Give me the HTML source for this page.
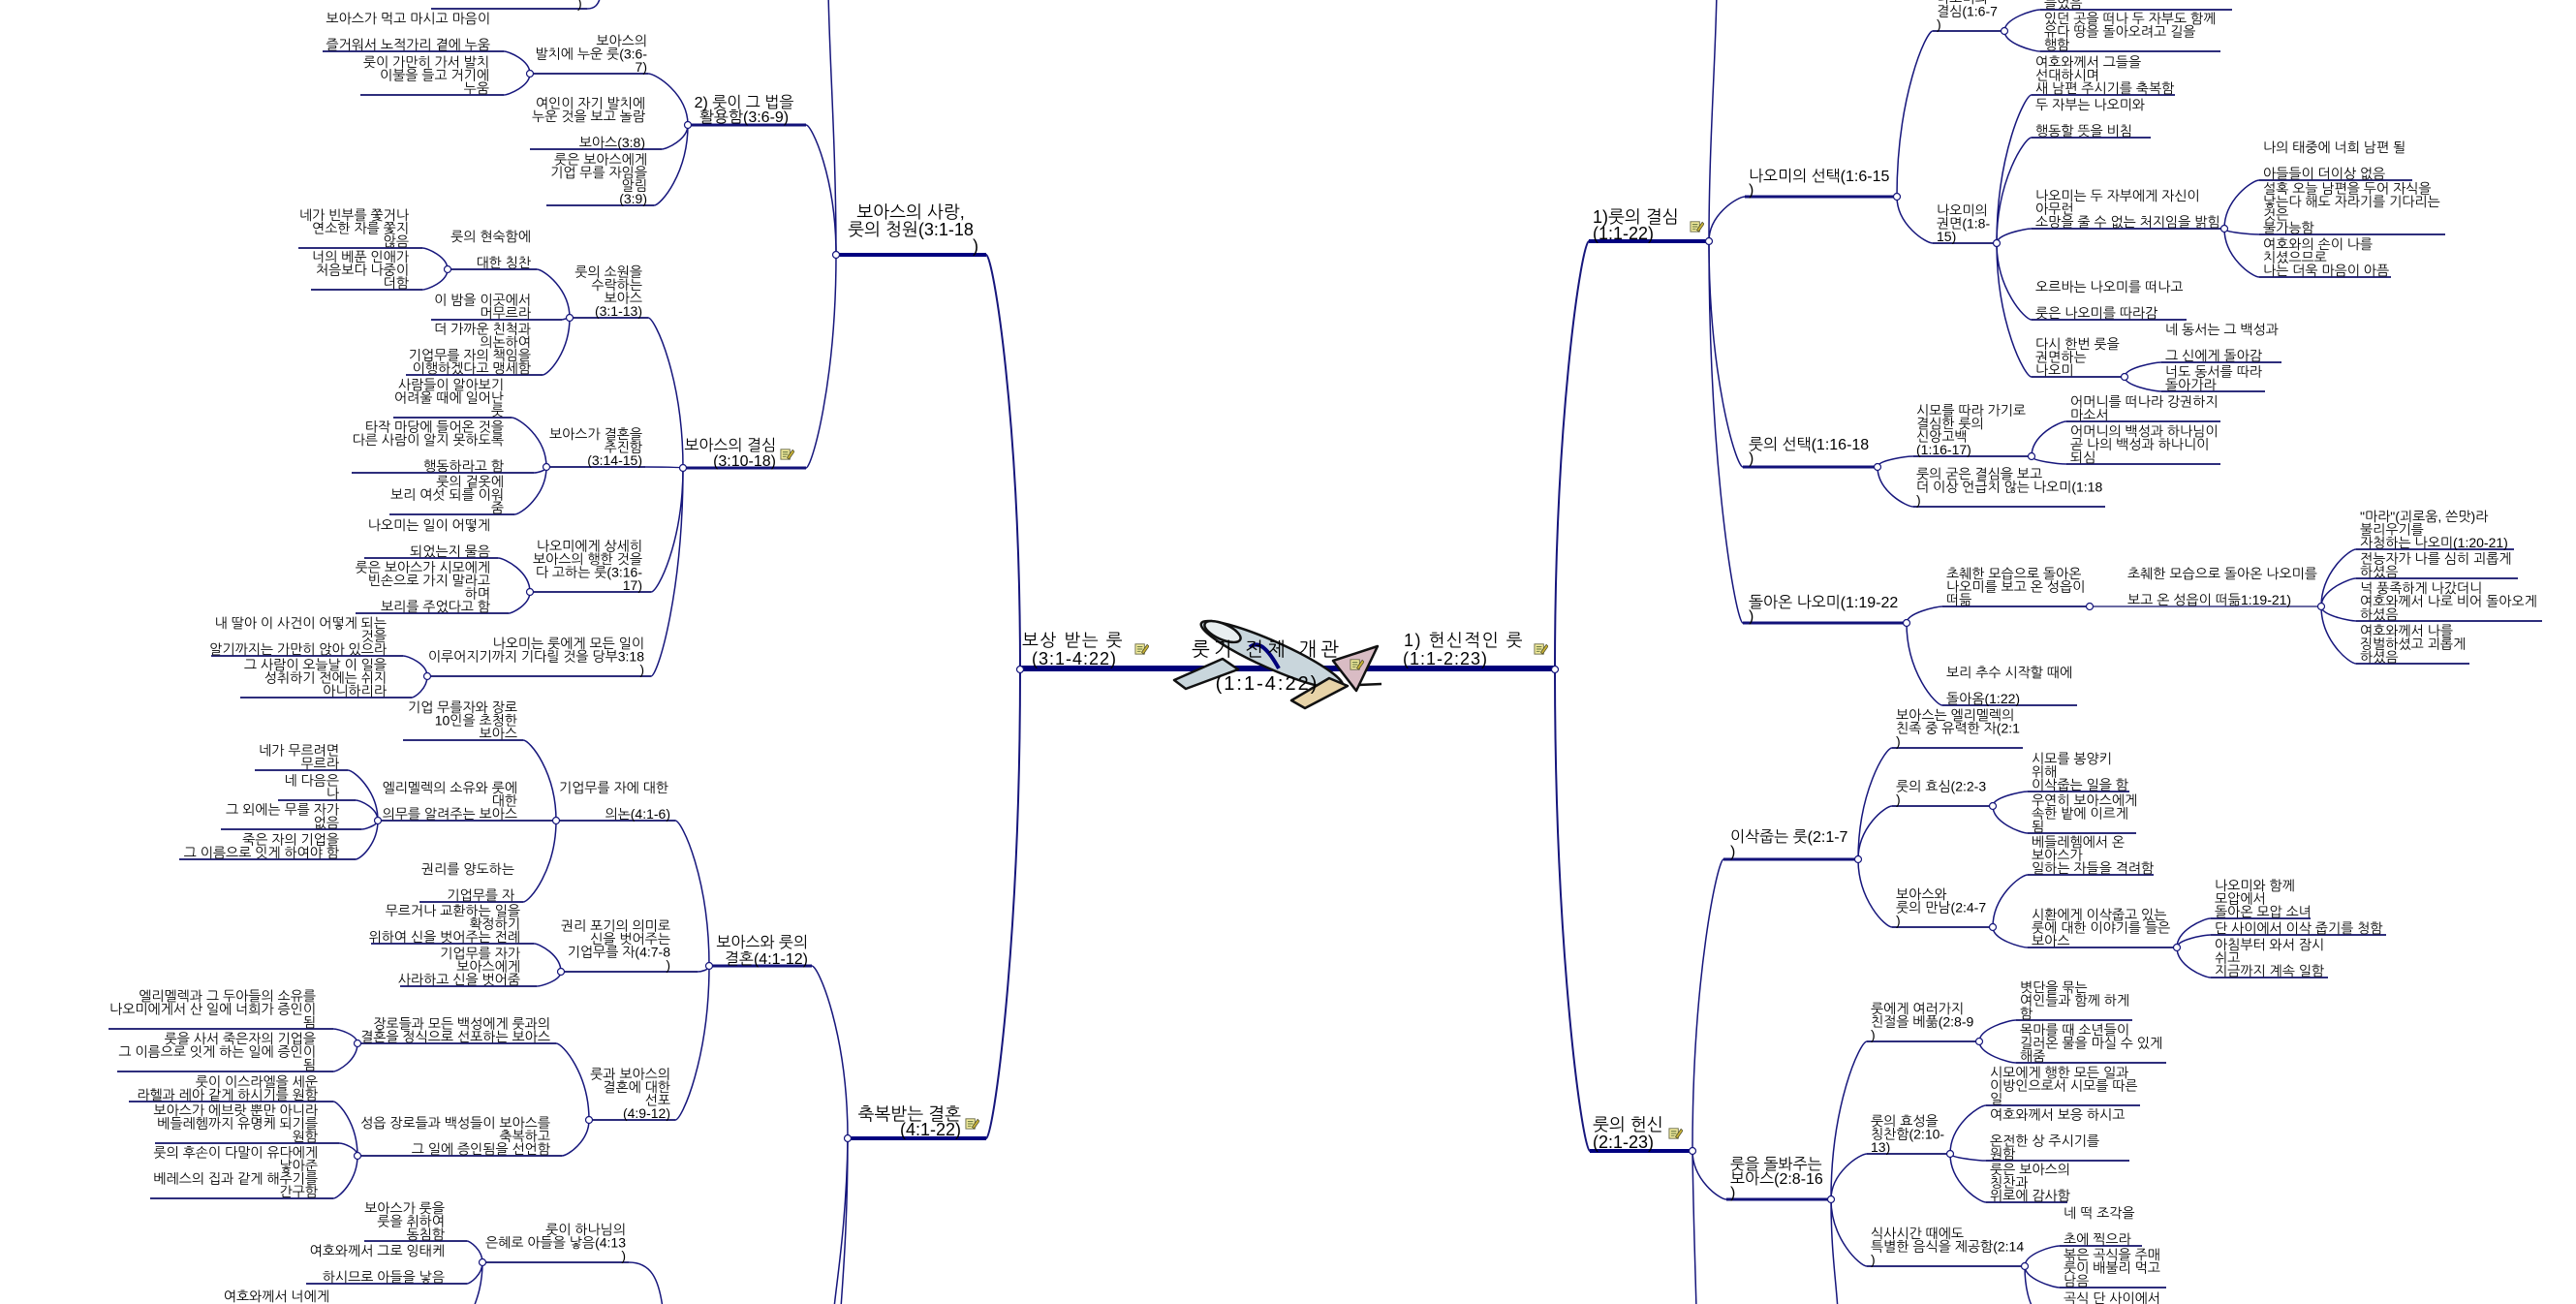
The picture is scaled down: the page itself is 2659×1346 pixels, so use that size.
<!DOCTYPE html>
<html><head><meta charset="utf-8">
<style>
html,body{margin:0;padding:0;background:#fff;}
body{width:2659px;height:1346px;overflow:hidden;}
svg{display:block}
text{font-family:"Liberation Sans","NanumGothic","Noto Sans CJK KR",sans-serif;font-size:14px;fill:#000}
.e{text-anchor:end}
.m{text-anchor:middle}
.b{font-size:16px}
.c{font-size:18px}
.d{font-size:18px}
.z{font-size:20px}
</style></head>
<body>
<svg width="2659" height="1346" viewBox="0 0 2659 1346" xmlns="http://www.w3.org/2000/svg">
<defs>
<symbol id="ic" viewBox="0 0 16 16">
<rect x="1" y="3" width="10" height="11" fill="#f3ec9c" stroke="#6d6d4a" stroke-width="1"/>
<path d="M3 6h6M3 8.5h6M3 11h4" stroke="#5a6a3a" stroke-width="1"/>
<path d="M8 12 L14 3.5 L16 5.5 L10 14 Z" fill="#c9b236" stroke="#4a4a2a" stroke-width=".8"/>
</symbol>
</defs>

<!-- connectors -->
<g fill="none" stroke="#16167c" stroke-width="1.5">
<path d="M1053 691 C1053 434 1025 263 1018 263" stroke-width="2"/>
<path d="M1053 691 C1053 981 1025 1175 1018 1175" stroke-width="2"/>
<path d="M863 263 C863 183 838 129 832 129"/>
<path d="M863 263 C863 395 838 483 832 483"/>
<path d="M863 263 C863 150 856 60 855 -10"/>
<path d="M710 129 C710 97 677 76 669 76"/>
<path d="M710 129 C710 144 688 154 683 154"/>
<path d="M710 129 C710 179 682 212 675 212"/>
<path d="M547 76 C547 62 525 53 520 53"/>
<path d="M547 76 C547 89 525 98 520 98"/>
<path d="M705 483 C705 390 676 328 669 328"/>
<path d="M705 483 C705 482 674 482 666 482"/>
<path d="M705 483 C705 560 679 611 672 611"/>
<path d="M705 483 C705 612 679 698 672 698"/>
<path d="M588 328 C588 298 561 278 554 278"/>
<path d="M588 328 L580 330"/>
<path d="M588 328 C588 363 566 387 560 387"/>
<path d="M462 278 C462 265 441 256 436 256"/>
<path d="M462 278 C462 291 441 299 436 299"/>
<path d="M564 482 C564 451 535 431 528 431"/>
<path d="M564 482 C564 486 554 488 551 488"/>
<path d="M564 482 C564 511 538 531 531 531"/>
<path d="M547 611 C547 590 521 576 514 576"/>
<path d="M547 611 C547 624 529 633 525 633"/>
<path d="M441 698 C441 685 421 677 416 677"/>
<path d="M441 698 C441 711 428 720 425 720"/>
<path d="M875 1175 C875 1068 845 997 838 997"/>
<path d="M875 1175 C875 1260 870 1320 868 1350"/>
<path d="M875 1175 C874 1260 864 1320 861 1350"/>
<path d="M732 997 C732 907 704 847 697 847"/>
<path d="M732 997 C732 1001 724 1003 720 1003"/>
<path d="M732 997 C732 1092 704 1156 697 1156"/>
<path d="M574 847 C574 797 547 764 540 764"/>
<path d="M574 847 C574 897 547 931 540 931"/>
<path d="M390 847 C390 816 365 795 359 795"/>
<path d="M390 847 C390 834 372 826 367 826"/>
<path d="M390 847 C390 852 376 856 373 856"/>
<path d="M390 847 C390 871 372 887 367 887"/>
<path d="M579 1003 C579 986 557 974 551 974"/>
<path d="M579 1003 C579 1012 559 1018 554 1018"/>
<path d="M608 1156 C608 1109 581 1077 574 1077"/>
<path d="M608 1156 C608 1178 586 1193 580 1193"/>
<path d="M369 1077 C369 1068 349 1062 344 1062"/>
<path d="M369 1077 C369 1094 349 1106 344 1106"/>
<path d="M369 1193 C369 1159 349 1137 344 1137"/>
<path d="M369 1193 C369 1185 354 1180 350 1180"/>
<path d="M369 1193 C369 1219 349 1237 344 1237"/>
<path d="M649 1303 C672 1303 680 1320 684 1350"/>
<path d="M498 1303 C498 1290 485 1281 482 1281"/>
<path d="M498 1303 C498 1316 485 1325 482 1325"/>
<path d="M498 1303 C498 1330 490 1346 488 1352"/>
<path d="M606 9 C614 9 618 5 620 -5"/>

<path d="M1605 691 C1605 426 1633 249 1640 249" stroke-width="2"/>
<path d="M1605 691 C1605 989 1634 1188 1641 1188" stroke-width="2"/>
<path d="M1764 249 C1764 150 1771 60 1772 -10"/>
<path d="M1764 249 C1764 221 1794 203 1801 203"/>
<path d="M1764 249 C1764 389 1792 482 1799 482"/>
<path d="M1764 249 C1764 485 1792 643 1799 643"/>
<path d="M1958 203 C1958 100 1988 32 1995 32"/>
<path d="M1958 203 C1958 232 1988 251 1995 251"/>
<path d="M2069 32 C2069 19 2099 10 2106 10"/>
<path d="M2069 32 C2069 45 2099 53 2106 53"/>
<path d="M2061 251 C2061 159 2090 98 2097 98"/>
<path d="M2061 251 C2061 186 2090 142 2097 142"/>
<path d="M2061 251 C2061 242 2090 236 2097 236"/>
<path d="M2061 251 C2061 298 2090 330 2097 330"/>
<path d="M2061 251 C2061 334 2090 389 2097 389"/>
<path d="M2296 236 C2296 206 2325 186 2332 186"/>
<path d="M2296 236 C2296 240 2325 242 2332 242"/>
<path d="M2296 236 C2296 266 2325 286 2332 286"/>
<path d="M2193 389 C2193 380 2223 374 2231 374"/>
<path d="M2193 389 C2193 398 2223 404 2231 404"/>
<path d="M1938 482 C1938 475 1968 471 1975 471"/>
<path d="M1938 482 C1938 507 1968 523 1975 523"/>
<path d="M2097 471 C2097 449 2126 435 2133 435"/>
<path d="M2097 471 C2097 476 2126 479 2133 479"/>
<path d="M1968 643 C1968 633 1998 626 2005 626"/>
<path d="M1968 643 C1968 694 1998 728 2005 728"/>
<path d="M2396 626 C2396 591 2425 567 2432 567"/>
<path d="M2396 626 C2396 609 2425 597 2432 597"/>
<path d="M2396 626 C2396 635 2425 641 2432 641"/>
<path d="M2396 626 C2396 661 2425 685 2432 685"/>
<path d="M1747 1188 C1747 1007 1773 887 1779 887"/>
<path d="M1747 1188 C1747 1218 1775 1238 1782 1238"/>
<path d="M1747 1188 C1748 1260 1750 1310 1751 1352"/>
<path d="M1918 887 C1918 818 1946 772 1953 772"/>
<path d="M1918 887 C1918 854 1946 832 1953 832"/>
<path d="M1918 887 C1918 929 1946 957 1953 957"/>
<path d="M2057 832 C2057 823 2086 817 2093 817"/>
<path d="M2057 832 C2057 849 2086 860 2093 860"/>
<path d="M2057 957 C2057 925 2086 903 2093 903"/>
<path d="M2057 957 C2057 970 2086 978 2093 978"/>
<path d="M2247 978 C2247 960 2275 948 2282 948"/>
<path d="M2247 978 C2247 970 2275 965 2282 965"/>
<path d="M2247 978 C2247 997 2275 1009 2282 1009"/>
<path d="M1890 1238 C1890 1140 1920 1075 1927 1075"/>
<path d="M1890 1238 C1890 1210 1920 1191 1927 1191"/>
<path d="M1890 1238 C1890 1279 1920 1307 1927 1307"/>
<path d="M1890 1238 C1890 1290 1895 1320 1897 1352"/>
<path d="M2043 1075 C2043 1062 2073 1053 2081 1053"/>
<path d="M2043 1075 C2043 1088 2073 1097 2081 1097"/>
<path d="M2013 1191 C2013 1161 2043 1141 2050 1141"/>
<path d="M2013 1191 C2013 1195 2043 1198 2050 1198"/>
<path d="M2013 1191 C2013 1221 2043 1241 2050 1241"/>
<path d="M2090 1307 C2090 1294 2119 1286 2126 1286"/>
<path d="M2090 1307 C2090 1320 2119 1329 2126 1329"/>
<path d="M2090 1307 C2090 1330 2095 1346 2100 1352"/>
</g>

<!-- leaf underlines -->
<g fill="none" stroke="#2e2e7c" stroke-width="2">
<path d="M333 53H520M372 98H520M547 76H669M547 154H683M564 212H675M588 328H669M564 482H666M547 611H672M441 698H672M462 278H554M445 330H580M419 387H560M308 256H436M321 299H436M406 431H528M363 488H551M402 531H531M376 576H514M367 633H525M218 677H416M248 720H425M574 847H697M579 1003H720M608 1156H697M416 764H540M390 847H574M433 931H540M263 795H359M287 826H367M228 856H373M185 887H367M383 974H551M413 1018H554M369 1077H574M369 1193H580M112 1062H344M121 1106H344M133 1137H344M160 1180H350M155 1237H344M498 1303H649M376 1281H482M316 1325H482M445 9H606"/>
<path d="M1995 32H2069M1995 251H2061M2106 10H2304M2106 53H2292M2097 98H2245M2097 142H2220M2097 236H2296M2097 330H2257M2097 389H2193M2332 186H2490M2332 242H2524M2332 286H2468M2231 374H2355M2231 404H2338M1975 471H2097M1975 523H2173M2133 435H2292M2133 479H2292M2005 626H2157M2005 728H2144M2432 567H2595M2432 597H2599M2432 641H2624M2432 685H2549M1953 772H2088M1953 832H2057M1953 957H2057M2093 817H2198M2093 860H2205M2093 903H2223M2093 978H2247M2282 948H2385M2282 965H2463M2282 1009H2403M1927 1075H2043M1927 1191H2013M1927 1307H2090M2081 1053H2201M2081 1097H2236M2050 1141H2209M2050 1198H2198M2050 1241H2134M2126 1286H2211M2126 1329H2236"/>
<path d="M2157 626H2396" stroke="#6a6aa2"/>
</g>
<!-- level 2 underlines -->
<g fill="none" stroke="#12127a" stroke-width="3">
<path d="M710 129H832M705 483H832M732 997H838M1801 203H1958M1799 482H1938M1799 643H1968M1779 887H1918M1782 1238H1890"/>
</g>
<!-- level 1 underlines -->
<g fill="none" stroke="#000080" stroke-width="4">
<path d="M863 263H1018M875 1175H1018M1640 249H1764M1641 1188H1747"/>
</g>
<!-- main trunk -->
<path d="M1053 690H1605" stroke="#00007a" stroke-width="6"/>

<!-- plane -->
<g stroke="#111" stroke-width="2.5" stroke-linejoin="round">
<polygon points="1212,702 1262,680 1278,691 1224,711" fill="#c9d6dc"/>
<ellipse cx="1313" cy="676" rx="80" ry="14" transform="rotate(24 1313 676)" fill="#c9d6dc"/>
<ellipse cx="1262" cy="652" rx="20" ry="8" transform="rotate(24 1262 652)" fill="#e8eef0"/>
<polygon points="1376,682 1422,667 1400,713" fill="#d9bcc4"/>
<polygon points="1333,723 1372,700 1391,708 1347,731" fill="#e7d3a8"/>
<path d="M1402 707 L1426 706" fill="none"/>
<path d="M1290 668 C1300 660 1310 672 1320 690" fill="none" stroke="#00007a" stroke-width="4"/>
</g>

<!-- node circles -->
<g fill="#fff" stroke="#16167c" stroke-width="1.2">
<circle cx="1053" cy="691" r="3.5"/><circle cx="863" cy="263" r="3.5"/><circle cx="875" cy="1175" r="3.5"/><circle cx="710" cy="129" r="3.5"/><circle cx="705" cy="483" r="3.5"/><circle cx="547" cy="76" r="3.5"/><circle cx="588" cy="328" r="3.5"/><circle cx="564" cy="482" r="3.5"/><circle cx="547" cy="611" r="3.5"/><circle cx="441" cy="698" r="3.5"/><circle cx="462" cy="278" r="3.5"/><circle cx="732" cy="997" r="3.5"/><circle cx="574" cy="847" r="3.5"/><circle cx="579" cy="1003" r="3.5"/><circle cx="608" cy="1156" r="3.5"/><circle cx="390" cy="847" r="3.5"/><circle cx="369" cy="1077" r="3.5"/><circle cx="369" cy="1193" r="3.5"/><circle cx="498" cy="1303" r="3.5"/>
<circle cx="1605" cy="691" r="3.5"/><circle cx="1764" cy="249" r="3.5"/><circle cx="1747" cy="1188" r="3.5"/><circle cx="1958" cy="203" r="3.5"/><circle cx="1938" cy="482" r="3.5"/><circle cx="1968" cy="643" r="3.5"/><circle cx="2069" cy="32" r="3.5"/><circle cx="2061" cy="251" r="3.5"/><circle cx="2296" cy="236" r="3.5"/><circle cx="2193" cy="389" r="3.5"/><circle cx="2097" cy="471" r="3.5"/><circle cx="2157" cy="626" r="3.5"/><circle cx="2396" cy="626" r="3.5"/><circle cx="1918" cy="887" r="3.5"/><circle cx="1890" cy="1238" r="3.5"/><circle cx="2057" cy="832" r="3.5"/><circle cx="2057" cy="957" r="3.5"/><circle cx="2247" cy="978" r="3.5"/><circle cx="2043" cy="1075" r="3.5"/><circle cx="2013" cy="1191" r="3.5"/><circle cx="2090" cy="1307" r="3.5"/>
</g>

<!-- icons -->
<use href="#ic" x="1171" y="662" width="15" height="15"/>
<use href="#ic" x="1583" y="662" width="15" height="15"/>
<use href="#ic" x="1393" y="678" width="15" height="15"/>
<use href="#ic" x="805" y="461" width="15" height="15"/>
<use href="#ic" x="996" y="1152" width="15" height="15"/>
<use href="#ic" x="1744" y="226" width="15" height="15"/>
<use href="#ic" x="1722" y="1162" width="15" height="15"/>

<!-- center texts -->
<text x="1055" y="667" class="d" letter-spacing="1.5">보상 받는 룻</text>
<text x="1065" y="686" class="d" letter-spacing="1">(3:1-4:22)</text>
<text x="1449" y="667" class="d" letter-spacing="1.5">1) 헌신적인 룻</text>
<text x="1448" y="686" class="d" letter-spacing="1">(1:1-2:23)</text>
<text x="1308" y="677" class="z m" letter-spacing="4">룻기 전체 개관</text>
<text x="1308" y="712" class="z m" letter-spacing="2">(1:1-4:22)</text>

<!-- LEFT main branches -->
<text x="940" y="225" class="c m">보아스의 사랑,</text>
<text x="940" y="243" class="c m">룻의 청원(3:1-18</text>
<text x="1004" y="260" class="c">)</text>
<text x="992" y="1156" class="c e">축복받는 결혼</text>
<text x="992" y="1172" class="c e">(4:1-22)</text>

<text x="768" y="111" class="b m">2) 룻이 그 법을</text>
<text x="768" y="126" class="b m">활용함(3:6-9)</text>
<text x="801" y="465" class="b e">보아스의 결심</text>
<text x="801" y="481" class="b e">(3:10-18)</text>
<text x="834" y="978" class="b e">보아스와 룻의</text>
<text x="834" y="995" class="b e">결혼(4:1-12)</text>

<!-- LEFT leaves -->
<text x="596" y="8">)</text>
<text x="506" y="24" class="e">보아스가 먹고 마시고 마음이<tspan x="506" dy="27">즐거워서 노적가리 곁에 누움</tspan></text>
<text x="505" y="69" class="e">룻이 가만히 가서 발치<tspan x="505" dy="13.5">이불을 들고 거기에</tspan><tspan x="505" dy="13.5">누움</tspan></text>
<text x="668" y="47" class="e">보아스의<tspan x="668" dy="13.5">발치에 누운 룻(3:6-</tspan><tspan x="668" dy="13.5">7)</tspan></text>
<text x="666" y="111.5" class="e">여인이 자기 발치에<tspan x="666" dy="13.5">누운 것을 보고 놀람</tspan><tspan x="666" dy="27">보아스(3:8)</tspan></text>
<text x="668" y="169.5" class="e">룻은 보아스에게<tspan x="668" dy="13.5">기업 무를 자임을</tspan><tspan x="668" dy="13.5">알림</tspan><tspan x="668" dy="13.5">(3:9)</tspan></text>

<text x="663" y="285.5" class="e">룻의 소원을<tspan x="663" dy="13.5">수락하는</tspan><tspan x="663" dy="13.5">보아스</tspan><tspan x="663" dy="13.5">(3:1-13)</tspan></text>
<text x="663" y="453" class="e">보아스가 결혼을<tspan x="663" dy="13.5">추진함</tspan><tspan x="663" dy="13.5">(3:14-15)</tspan></text>
<text x="663" y="568.5" class="e">나오미에게 상세히<tspan x="663" dy="13.5">보아스의 행한 것을</tspan><tspan x="663" dy="13.5">다 고하는 룻(3:16-</tspan><tspan x="663" dy="13.5">17)</tspan></text>
<text x="665" y="669" class="e">나오미는 룻에게 모든 일이<tspan x="665" dy="13.5">이루어지기까지 기다릴 것을 당부3:18</tspan><tspan x="665" dy="13.5">)</tspan></text>

<text x="548" y="249" class="e">룻의 현숙함에<tspan x="548" dy="27">대한 칭찬</tspan></text>
<text x="548" y="314.5" class="e">이 밤을 이곳에서<tspan x="548" dy="13.5">머무르라</tspan></text>
<text x="548" y="344.5" class="e">더 가까운 친척과<tspan x="548" dy="13.5">의논하여</tspan><tspan x="548" dy="13.5">기업무를 자의 책임을</tspan><tspan x="548" dy="13.5">이행하겠다고 맹세함</tspan></text>
<text x="422" y="227" class="e">네가 빈부를 쫓거나<tspan x="422" dy="13.5">연소한 자를 쫓지</tspan><tspan x="422" dy="13.5">않음</tspan></text>
<text x="422" y="270" class="e">너의 베푼 인애가<tspan x="422" dy="13.5">처음보다 나중이</tspan><tspan x="422" dy="13.5">더함</tspan></text>

<text x="520" y="402" class="e">사람들이 알아보기<tspan x="520" dy="13.5">어려울 때에 일어난</tspan><tspan x="520" dy="13.5">룻</tspan></text>
<text x="520" y="445.5" class="e">타작 마당에 들어온 것을<tspan x="520" dy="13.5">다른 사람이 알지 못하도록</tspan><tspan x="520" dy="27">행동하라고 함</tspan></text>
<text x="520" y="502" class="e">룻의 겉옷에<tspan x="520" dy="13.5">보리 여섯 되를 이워</tspan><tspan x="520" dy="13.5">줌</tspan></text>
<text x="506" y="547" class="e">나오미는 일이 어떻게<tspan x="506" dy="27">되었는지 물음</tspan></text>
<text x="506" y="590.5" class="e">룻은 보아스가 시모에게<tspan x="506" dy="13.5">빈손으로 가지 말라고</tspan><tspan x="506" dy="13.5">하며</tspan><tspan x="506" dy="13.5">보리를 주었다고 함</tspan></text>
<text x="399" y="648" class="e">내 딸아 이 사건이 어떻게 되는<tspan x="399" dy="13.5">것을</tspan><tspan x="399" dy="13.5">알기까지는 가만히 앉아 있으라</tspan></text>
<text x="399" y="691" class="e">그 사람이 오늘날 이 일을<tspan x="399" dy="13.5">성취하기 전에는 쉬지</tspan><tspan x="399" dy="13.5">아니하리라</tspan></text>

<text x="690" y="818" class="e">기업무를 자에 대한<tspan x="692" dy="27">의논(4:1-6)</tspan></text>
<text x="692" y="960.5" class="e">권리 포기의 의미로<tspan x="692" dy="13.5">신을 벗어주는</tspan><tspan x="692" dy="13.5">기업무를 자(4:7-8</tspan><tspan x="692" dy="13.5">)</tspan></text>
<text x="692" y="1113.5" class="e">룻과 보아스의<tspan x="692" dy="13.5">결혼에 대한</tspan><tspan x="692" dy="13.5">선포</tspan><tspan x="692" dy="13.5">(4:9-12)</tspan></text>
<text x="534" y="735" class="e">기업 무를자와 장로<tspan x="534" dy="13.5">10인을 초청한</tspan><tspan x="534" dy="13.5">보아스</tspan></text>
<text x="534" y="818" class="e">엘리멜렉의 소유와 룻에<tspan x="534" dy="13.5">대한</tspan><tspan x="534" dy="13.5">의무를 알려주는 보아스</tspan></text>
<text x="531" y="902" class="e">권리를 양도하는<tspan x="531" dy="27">기업무를 자</tspan></text>
<text x="350" y="779.5" class="e">네가 무르려면<tspan x="350" dy="13.5">무르라</tspan></text>
<text x="350" y="810.5" class="e">네 다음은<tspan x="350" dy="13.5">나</tspan></text>
<text x="350" y="840.5" class="e">그 외에는 무를 자가<tspan x="350" dy="13.5">없음</tspan></text>
<text x="350" y="871.5" class="e">죽은 자의 기업을<tspan x="350" dy="13.5">그 이름으로 잇게 하여야 함</tspan></text>
<text x="537" y="945" class="e">무르거나 교환하는 일을<tspan x="537" dy="13.5">확정하기</tspan><tspan x="537" dy="13.5">위하여 신을 벗어주는 전례</tspan></text>
<text x="537" y="989" class="e">기업무를 자가<tspan x="537" dy="13.5">보아스에게</tspan><tspan x="537" dy="13.5">사라하고 신을 벗어줌</tspan></text>
<text x="568" y="1061.5" class="e">장로들과 모든 백성에게 룻과의<tspan x="568" dy="13.5">결혼을 정식으로 선포하는 보아스</tspan></text>
<text x="568" y="1164" class="e">성읍 장로들과 백성들이 보아스를<tspan x="568" dy="13.5">축복하고</tspan><tspan x="568" dy="13.5">그 일에 증인됨을 선언함</tspan></text>
<text x="326" y="1033" class="e">엘리멜렉과 그 두아들의 소유를<tspan x="326" dy="13.5">나오미에게서 산 일에 너희가 증인이</tspan><tspan x="326" dy="13.5">됨</tspan></text>
<text x="326" y="1077" class="e">룻을 사서 죽은자의 기업을<tspan x="326" dy="13.5">그 이름으로 잇게 하는 일에 증인이</tspan><tspan x="326" dy="13.5">됨</tspan></text>
<text x="328" y="1121.5" class="e">룻이 이스라엘을 세운<tspan x="328" dy="13.5">라헬과 레아 같게 하시기를 원함</tspan></text>
<text x="328" y="1151" class="e">보아스가 에브랏 뿐만 아니라<tspan x="328" dy="13.5">베들레헴까지 유명케 되기를</tspan><tspan x="328" dy="13.5">원함</tspan></text>
<text x="328" y="1194.5" class="e">룻의 후손이 다말이 유다에게<tspan x="328" dy="13.5">낳아준</tspan><tspan x="328" dy="13.5">베레스의 집과 같게 해주기를</tspan><tspan x="328" dy="13.5">간구함</tspan></text>
<text x="646" y="1274" class="e">룻이 하나님의<tspan x="646" dy="13.5">은혜로 아들을 낳음(4:13</tspan><tspan x="646" dy="13.5">)</tspan></text>
<text x="459" y="1252" class="e">보아스가 룻을<tspan x="459" dy="13.5">룻을 취하여</tspan><tspan x="459" dy="13.5">동침함</tspan></text>
<text x="459" y="1296" class="e">여호와께서 그로 잉태케<tspan x="459" dy="27">하시므로 아들을 낳음</tspan></text>
<text x="340" y="1343" class="e">여호와께서 너에게</text>

<!-- RIGHT main branches -->
<text x="1644" y="230" class="c">1)룻의 결심</text>
<text x="1644" y="247" class="c">(1:1-22)</text>
<text x="1644" y="1167" class="c">룻의 헌신</text>
<text x="1644" y="1185" class="c">(2:1-23)</text>

<text x="1805" y="187" class="b">나오미의 선택(1:6-15<tspan x="1805" dy="14">)</tspan></text>
<text x="1805" y="464" class="b">룻의 선택(1:16-18<tspan x="1805" dy="14">)</tspan></text>
<text x="1805" y="627" class="b">돌아온 나오미(1:19-22<tspan x="1805" dy="14">)</tspan></text>
<text x="1786" y="869" class="b">이삭줍는 룻(2:1-7<tspan x="1786" dy="15">)</tspan></text>
<text x="1786" y="1207" class="b">룻을 돌봐주는<tspan x="1786" dy="15">보아스(2:8-16</tspan><tspan x="1786" dy="14">)</tspan></text>

<!-- RIGHT leaves -->
<text x="1999" y="3">나오미의<tspan x="1999" dy="13.5">결심(1:6-7</tspan><tspan x="1999" dy="13.5">)</tspan></text>
<text x="1999" y="222">나오미의<tspan x="1999" dy="13.5">권면(1:8-</tspan><tspan x="1999" dy="13.5">15)</tspan></text>
<text x="2110" y="8">들었음</text>
<text x="2110" y="24">있던 곳을 떠나 두 자부도 함께<tspan x="2110" dy="13.5">유다 땅을 돌아오려고 길을</tspan><tspan x="2110" dy="13.5">행함</tspan></text>
<text x="2101" y="69">여호와께서 그들을<tspan x="2101" dy="13.5">선대하시며</tspan><tspan x="2101" dy="13.5">새 남편 주시기를 축복함</tspan></text>
<text x="2101" y="113">두 자부는 나오미와<tspan x="2101" dy="27">행동할 뜻을 비침</tspan></text>
<text x="2101" y="207">나오미는 두 자부에게 자신이<tspan x="2101" dy="13.5">아무런</tspan><tspan x="2101" dy="13.5">소망을 줄 수 없는 처지임을 밝힘</tspan></text>
<text x="2101" y="301">오르바는 나오미를 떠나고<tspan x="2101" dy="27">룻은 나오미를 따라감</tspan></text>
<text x="2101" y="360">다시 한번 룻을<tspan x="2101" dy="13.5">권면하는</tspan><tspan x="2101" dy="13.5">나오미</tspan></text>
<text x="2336" y="157">나의 태중에 너희 남편 될<tspan x="2336" dy="27">아들들이 더이상 없음</tspan></text>
<text x="2336" y="199.5">설혹 오늘 남편을 두어 자식을<tspan x="2336" dy="13.5">낳는다 해도 자라기를 기다리는</tspan><tspan x="2336" dy="13.5">것은</tspan><tspan x="2336" dy="13.5">불가능함</tspan></text>
<text x="2336" y="257">여호와의 손이 나를<tspan x="2336" dy="13.5">치셨으므로</tspan><tspan x="2336" dy="13.5">나는 더욱 마음이 아픔</tspan></text>
<text x="2235" y="345">네 동서는 그 백성과<tspan x="2235" dy="27">그 신에게 돌아감</tspan></text>
<text x="2235" y="388.5">너도 동서를 따라<tspan x="2235" dy="13.5">돌아가라</tspan></text>
<text x="1978" y="428.5">시모를 따라 가기로<tspan x="1978" dy="13.5">결심한 룻의</tspan><tspan x="1978" dy="13.5">신앙고백</tspan><tspan x="1978" dy="13.5">(1:16-17)</tspan></text>
<text x="1978" y="494">룻의 굳은 결심을 보고<tspan x="1978" dy="13.5">더 이상 언급치 않는 나오미(1:18</tspan><tspan x="1978" dy="13.5">)</tspan></text>
<text x="2137" y="419.5">어머니를 떠나라 강권하지<tspan x="2137" dy="13.5">마소서</tspan></text>
<text x="2137" y="450">어머니의 백성과 하나님이<tspan x="2137" dy="13.5">곧 나의 백성과 하나니이</tspan><tspan x="2137" dy="13.5">되심</tspan></text>
<text x="2009" y="597">초췌한 모습으로 돌아온<tspan x="2009" dy="13.5">나오미를 보고 온 성읍이</tspan><tspan x="2009" dy="13.5">떠듦</tspan></text>
<text x="2009" y="699">보리 추수 시작할 때에<tspan x="2009" dy="27">돌아옴(1:22)</tspan></text>
<text x="2196" y="597">초췌한 모습으로 돌아온 나오미를<tspan x="2196" dy="27">보고 온 성읍이 떠듦1:19-21)</tspan></text>
<text x="2436" y="538">"마라"(괴로움, 쓴맛)라<tspan x="2436" dy="13.5">불리우기를</tspan><tspan x="2436" dy="13.5">자청하는 나오미(1:20-21)</tspan></text>
<text x="2436" y="581.5">전능자가 나를 심히 괴롭게<tspan x="2436" dy="13.5">하셨음</tspan></text>
<text x="2436" y="612">넉 풍족하게 나갔더니<tspan x="2436" dy="13.5">여호와께서 나로 비어 돌아오게</tspan><tspan x="2436" dy="13.5">하셨음</tspan></text>
<text x="2436" y="656">여호와께서 나를<tspan x="2436" dy="13.5">징벌하셨고 괴롭게</tspan><tspan x="2436" dy="13.5">하셨음</tspan></text>

<text x="1957" y="743">보아스는 엘리멜렉의<tspan x="1957" dy="13.5">친족 중 유력한 자(2:1</tspan><tspan x="1957" dy="13.5">)</tspan></text>
<text x="1957" y="816.5">룻의 효심(2:2-3<tspan x="1957" dy="13.5">)</tspan></text>
<text x="1957" y="928">보아스와<tspan x="1957" dy="13.5">룻의 만남(2:4-7</tspan><tspan x="1957" dy="13.5">)</tspan></text>
<text x="2097" y="788">시모를 봉양키<tspan x="2097" dy="13.5">위해</tspan><tspan x="2097" dy="13.5">이삭줍는 일을 함</tspan></text>
<text x="2097" y="831">우연히 보아스에게<tspan x="2097" dy="13.5">속한 밭에 이르게</tspan><tspan x="2097" dy="13.5">됨</tspan></text>
<text x="2097" y="874">베들레헴에서 온<tspan x="2097" dy="13.5">보아스가</tspan><tspan x="2097" dy="13.5">일하는 자들을 격려함</tspan></text>
<text x="2097" y="949">시환에게 이삭줍고 있는<tspan x="2097" dy="13.5">룻에 대한 이야기를 들은</tspan><tspan x="2097" dy="13.5">보아스</tspan></text>
<text x="2286" y="919">나오미와 함께<tspan x="2286" dy="13.5">모압에서</tspan><tspan x="2286" dy="13.5">돌아온 모압 소녀</tspan></text>
<text x="2286" y="963">단 사이에서 이삭 줍기를 청함</text>
<text x="2286" y="980">아침부터 와서 잠시<tspan x="2286" dy="13.5">쉬고</tspan><tspan x="2286" dy="13.5">지금까지 계속 일함</tspan></text>

<text x="1931" y="1046">룻에게 여러가지<tspan x="1931" dy="13.5">친절을 베풂(2:8-9</tspan><tspan x="1931" dy="13.5">)</tspan></text>
<text x="1931" y="1162">룻의 효성을<tspan x="1931" dy="13.5">칭찬함(2:10-</tspan><tspan x="1931" dy="13.5">13)</tspan></text>
<text x="1931" y="1278">식사시간 때에도<tspan x="1931" dy="13.5">특별한 음식을 제공함(2:14</tspan><tspan x="1931" dy="13.5">)</tspan></text>
<text x="2085" y="1024">볏단을 묶는<tspan x="2085" dy="13.5">여인들과 함께 하게</tspan><tspan x="2085" dy="13.5">함</tspan></text>
<text x="2085" y="1068">목마를 때 소년들이<tspan x="2085" dy="13.5">길러온 물을 마실 수 있게</tspan><tspan x="2085" dy="13.5">해줌</tspan></text>
<text x="2054" y="1112">시모에게 행한 모든 일과<tspan x="2054" dy="13.5">이방인으로서 시모를 따른</tspan><tspan x="2054" dy="13.5">일</tspan></text>
<text x="2054" y="1155.5">여호와께서 보응 하시고<tspan x="2054" dy="27">온전한 상 주시기를</tspan><tspan x="2054" dy="13.5">원함</tspan></text>
<text x="2054" y="1212">룻은 보아스의<tspan x="2054" dy="13.5">칭찬과</tspan><tspan x="2054" dy="13.5">위로에 감사함</tspan></text>
<text x="2130" y="1257">네 떡 조각을<tspan x="2130" dy="27">초에 찍으라</tspan></text>
<text x="2130" y="1300">볶은 곡식을 주매<tspan x="2130" dy="13.5">룻이 배불리 먹고</tspan><tspan x="2130" dy="13.5">남음</tspan></text>
<text x="2130" y="1345">곡식 단 사이에서</text>
</svg>
</body></html>
